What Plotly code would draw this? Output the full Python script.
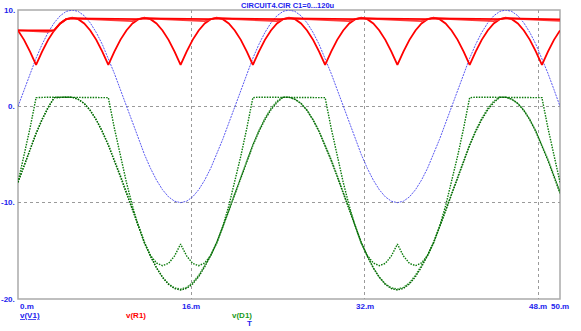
import plotly.graph_objects as go

# ---- data ----
time_ms = [
    0.0, 0.556, 1.111, 1.667, 2.222, 2.778, 3.333, 3.889, 4.444, 5.0, 5.556, 6.111, 6.667, 7.222, 7.778, 8.333, 8.889, 9.444,
    10.0, 10.556, 11.111, 11.667, 12.222, 12.778, 13.333, 13.889, 14.444, 15.0, 15.556, 16.111, 16.667, 17.222, 17.778, 18.333, 18.889, 19.444,
    20.0, 20.556, 21.111, 21.667, 22.222, 22.778, 23.333, 23.889, 24.444, 25.0, 25.556, 26.111, 26.667, 27.222, 27.778, 28.333, 28.889, 29.444,
    30.0, 30.556, 31.111, 31.667, 32.222, 32.778, 33.333, 33.889, 34.444, 35.0, 35.556, 36.111, 36.667, 37.222, 37.778, 38.333, 38.889, 39.444,
    40.0, 40.556, 41.111, 41.667, 42.222, 42.778, 43.333, 43.889, 44.444, 45.0, 45.556, 46.111, 46.667, 47.222, 47.778, 48.333, 48.889, 49.444,
    50.0,
]

v_v1 = [
    0.0, 1.74, 3.42, 5.0, 6.43, 7.66, 8.66, 9.4, 9.85, 10.0, 9.85, 9.4, 8.66, 7.66, 6.43, 5.0, 3.42, 1.74,
    0.0, -1.74, -3.42, -5.0, -6.43, -7.66, -8.66, -9.4, -9.85, -10.0, -9.85, -9.4, -8.66, -7.66, -6.43, -5.0, -3.42, -1.74,
    0.0, 1.74, 3.42, 5.0, 6.43, 7.66, 8.66, 9.4, 9.85, 10.0, 9.85, 9.4, 8.66, 7.66, 6.43, 5.0, 3.42, 1.74,
    0.0, -1.74, -3.42, -5.0, -6.43, -7.66, -8.66, -9.4, -9.85, -10.0, -9.85, -9.4, -8.66, -7.66, -6.43, -5.0, -3.42, -1.74,
    0.0, 1.74, 3.42, 5.0, 6.43, 7.66, 8.66, 9.4, 9.85, 10.0, 9.85, 9.4, 8.66, 7.66, 6.43, 5.0, 3.42, 1.74,
    0.0,
]

v_r1_c0 = [
    7.88, 6.9, 5.68, 4.3, 5.68, 6.9, 7.88, 8.6, 9.05, 9.2, 9.05, 8.6,
    7.88, 6.9, 5.68, 4.3, 5.68, 6.9, 7.88, 8.6, 9.05, 9.2, 9.05, 8.6,
    7.88, 6.9, 5.68, 4.3, 5.68, 6.9, 7.88, 8.6, 9.05, 9.2, 9.05, 8.6,
    7.88, 6.9, 5.68, 4.3, 5.68, 6.9, 7.88, 8.6, 9.05, 9.2, 9.05, 8.6,
    7.88, 6.9, 5.68, 4.3, 5.68, 6.9, 7.88, 8.6, 9.05, 9.2, 9.05, 8.6,
    7.88, 6.9, 5.68, 4.3, 5.68, 6.9, 7.88, 8.6, 9.05, 9.2, 9.05, 8.6,
    7.88, 6.9, 5.68, 4.3, 5.68, 6.9, 7.88, 8.6, 9.05, 9.2, 9.05, 8.6,
    7.88, 6.9, 5.68, 4.3, 5.68, 6.9, 7.88,
]

v_r1_c60 = [
    7.88, 7.85, 7.82, 7.79, 7.76, 7.73, 7.88, 8.6, 9.05,
    9.15, 9.12, 9.09, 9.06, 9.03, 9.0, 8.97, 8.94, 8.91, 8.88, 8.85, 9.05,
    9.15, 9.12, 9.09, 9.06, 9.03, 9.0, 8.97, 8.94, 8.91, 8.88, 8.85, 9.05,
    9.15, 9.12, 9.09, 9.06, 9.03, 9.0, 8.97, 8.94, 8.91, 8.88, 8.85, 9.05,
    9.15, 9.12, 9.09, 9.06, 9.03, 9.0, 8.97, 8.94, 8.91, 8.88, 8.85, 9.05,
    9.15, 9.12, 9.09, 9.06, 9.03, 9.0, 8.97, 8.94, 8.91, 8.88, 8.85, 9.05,
    9.15, 9.12, 9.09, 9.06, 9.03, 9.0, 8.97, 8.94, 8.91, 8.88, 8.85, 9.05,
    9.15, 9.12, 9.09, 9.06, 9.03, 9.0, 8.97, 8.94, 8.91, 8.88,
]

v_r1_c120 = [
    7.88, 7.87, 7.86, 7.84, 7.83, 7.82, 7.88, 8.6, 9.05,
    9.13, 9.12, 9.11, 9.1, 9.08, 9.07, 9.06, 9.05, 9.04, 9.02, 9.01, 9.05,
    9.13, 9.12, 9.11, 9.1, 9.08, 9.07, 9.06, 9.05, 9.04, 9.02, 9.01, 9.05,
    9.13, 9.12, 9.11, 9.1, 9.08, 9.07, 9.06, 9.05, 9.04, 9.02, 9.01, 9.05,
    9.13, 9.12, 9.11, 9.1, 9.08, 9.07, 9.06, 9.05, 9.04, 9.02, 9.01, 9.05,
    9.13, 9.12, 9.11, 9.1, 9.08, 9.07, 9.06, 9.05, 9.04, 9.02, 9.01, 9.05,
    9.13, 9.12, 9.11, 9.1, 9.08, 9.07, 9.06, 9.05, 9.04, 9.02, 9.01, 9.05,
    9.13, 9.12, 9.11, 9.1, 9.08, 9.07, 9.06, 9.05, 9.04, 9.02,
]

v_d1_c0 = [
    -7.88, -5.16, -2.26, 0.9, 0.95, 0.95, 0.95, 0.95, 0.95, 0.95, 0.95, 0.95, 0.95, 0.95, 0.95, 0.9, -2.26, -5.16,
    -7.88, -10.34, -12.47, -14.2, -15.48, -16.26, -16.54, -16.3, -15.53, -14.3, -15.53, -16.3, -16.54, -16.26, -15.48, -14.2, -12.47, -10.34,
    -7.88, -5.16, -2.26, 0.9, 0.95, 0.95, 0.95, 0.95, 0.95, 0.95, 0.95, 0.95, 0.95, 0.95, 0.95, 0.9, -2.26, -5.16,
    -7.88, -10.34, -12.47, -14.2, -15.48, -16.26, -16.54, -16.3, -15.53, -14.3, -15.53, -16.3, -16.54, -16.26, -15.48, -14.2, -12.47, -10.34,
    -7.88, -5.16, -2.26, 0.9, 0.95, 0.95, 0.95, 0.95, 0.95, 0.95, 0.95, 0.95, 0.95, 0.95, 0.95, 0.9, -2.26, -5.16,
    -7.88,
]

v_d1_c60 = [
    -7.88, -6.11, -4.4, -2.79, -1.33, -0.07, 0.9, 0.95, 0.95, 0.95,
    0.73, 0.31, -0.40, -1.37, -2.57, -3.97, -5.52, -7.17,
    -8.88, -10.59, -12.47, -14.15, -15.55, -16.75, -17.72, -18.43, -18.85, -18.97, -18.79, -18.31, -17.54, -16.51, -15.48, -14.15, -12.54, -10.83,
    -9.06, -7.29, -5.58, -3.97, -2.51, -1.25, -0.22, 0.55, 0.95, 0.95, 0.73, 0.31, -0.40, -1.37, -2.57, -3.97, -5.52, -7.17,
    -8.88, -10.59, -12.47, -14.15, -15.55, -16.75, -17.72, -18.43, -18.85, -18.97, -18.79, -18.31, -17.54, -16.51, -15.48, -14.15, -12.54, -10.83,
    -9.06, -7.29, -5.58, -3.97, -2.51, -1.25, -0.22, 0.55, 0.95, 0.95, 0.73, 0.31, -0.40, -1.37, -2.57, -3.97, -5.52, -7.17,
    -8.88,
]

v_d1_c120 = [
    -7.88, -6.13, -4.44, -2.84, -1.4, -0.16, 0.9, 0.95, 0.95, 0.95,
    0.73, 0.29, -0.44, -1.42, -2.64, -4.06, -5.63, -7.3,
    -9.02, -10.75, -12.47, -14.13, -15.55, -16.77, -17.76, -18.48, -18.92, -19.06, -18.9, -18.44, -17.68, -16.67, -15.48, -14.13, -12.54, -10.85,
    -9.10, -7.34, -5.65, -4.06, -2.62, -1.38, -0.36, 0.39, 0.95, 0.95, 0.73, 0.29, -0.44, -1.42, -2.64, -4.06, -5.63, -7.3,
    -9.02, -10.75, -12.47, -14.13, -15.55, -16.77, -17.76, -18.48, -18.92, -19.06, -18.9, -18.44, -17.68, -16.67, -15.48, -14.13, -12.54, -10.85,
    -9.10, -7.34, -5.65, -4.06, -2.62, -1.38, -0.36, 0.39, 0.95, 0.95, 0.73, 0.29, -0.44, -1.42, -2.64, -4.06, -5.63, -7.3,
    -9.02,
]

x_tick_vals = [0, 16, 32, 48, 50]
x_tick_text = ["0.m", "16.m", "32.m", "48.m", "50.m"]
y_tick_vals = [10, 0, -10, -20]
y_tick_text = ["10.", "0.", "-10.", "-20."]
title_text = "CIRCUIT4.CIR C1=0...120u"

# ---- figure ----
BLUE = "#2222ee"
FONT = "Liberation Sans, Arial, sans-serif"

fig = go.Figure()
fig.add_trace(go.Scatter(x=time_ms, y=v_v1, mode="lines",
                         line=dict(color="rgba(70,70,240,0.9)", width=1, dash="2px,1px")))
for ys, col in [(v_r1_c0, "#ff0000"), (v_r1_c60, "#ff3a3a"), (v_r1_c120, "#ff0000")]:
    fig.add_trace(go.Scatter(x=time_ms, y=ys, mode="lines", line=dict(color=col, width=1.8)))
for ys, col in [(v_d1_c0, "#0a7a0a"), (v_d1_c60, "#3c9c3c"), (v_d1_c120, "#006400")]:
    fig.add_trace(go.Scatter(x=time_ms, y=ys, mode="lines",
                             line=dict(color=col, width=1.4, dash="1.5px,1.2px")))

ann = []
for v, t in zip(y_tick_vals, y_tick_text):
    ann.append(dict(xref="paper", yref="y", x=0, y=v, text="<b>%s</b>" % t, showarrow=False,
                    xanchor="right", yanchor="middle", xshift=-1,
                    font=dict(family=FONT, size=8, color=BLUE)))
for v, t in zip(x_tick_vals, x_tick_text):
    ann.append(dict(xref="x", yref="paper", x=v, y=0, text="<b>%s</b>" % t, showarrow=False,
                    xanchor="left" if v == 0 else "center", yanchor="middle", yshift=-7,
                    font=dict(family=FONT, size=8, color=BLUE)))
ann.append(dict(xref="paper", yref="paper", x=0.4985, y=1, text="<b>%s</b>" % title_text, showarrow=False,
                xanchor="center", yanchor="middle", yshift=5,
                font=dict(family=FONT, size=7.5, color=BLUE)))
ann.append(dict(xref="paper", yref="paper", x=0, y=0, text="<b><u>v(V1)</u></b>", showarrow=False,
                xanchor="left", yanchor="middle", yshift=-16,
                font=dict(family=FONT, size=8, color=BLUE)))
ann.append(dict(xref="paper", yref="paper", x=0.1956, y=0, text="<b>v(R1)</b>", showarrow=False,
                xanchor="left", yanchor="middle", yshift=-16,
                font=dict(family=FONT, size=8, color="#ff0000")))
ann.append(dict(xref="paper", yref="paper", x=0.391, y=0, text="<b>v(D1)</b>", showarrow=False,
                xanchor="left", yanchor="middle", yshift=-16,
                font=dict(family=FONT, size=8, color="#1a9a1a")))
ann.append(dict(xref="paper", yref="paper", x=0.428, y=0, text="<b>T</b>", showarrow=False,
                xanchor="center", yanchor="middle", yshift=-24,
                font=dict(family=FONT, size=8, color=BLUE)))

fig.update_layout(
    width=581, height=331,
    margin=dict(l=18, r=21, t=10, b=32),
    paper_bgcolor="white", plot_bgcolor="white",
    showlegend=False,
    annotations=ann,
    xaxis=dict(range=[0, 50], tickvals=[16, 32, 48], showticklabels=False, ticks="",
               showgrid=True, gridcolor="#9a9a9a", griddash="dot", gridwidth=1,
               zeroline=False, showline=False),
    yaxis=dict(range=[-20, 10], tickvals=[0, -10], showticklabels=False, ticks="",
               showgrid=True, gridcolor="#9a9a9a", griddash="dot", gridwidth=1,
               zeroline=False, showline=False),
    shapes=[dict(type="rect", xref="paper", yref="paper", x0=0, x1=1, y0=0, y1=1,
                 line=dict(color="#aaaaaa", width=1.5), layer="below")],
)

fig.write_html("out.html")
